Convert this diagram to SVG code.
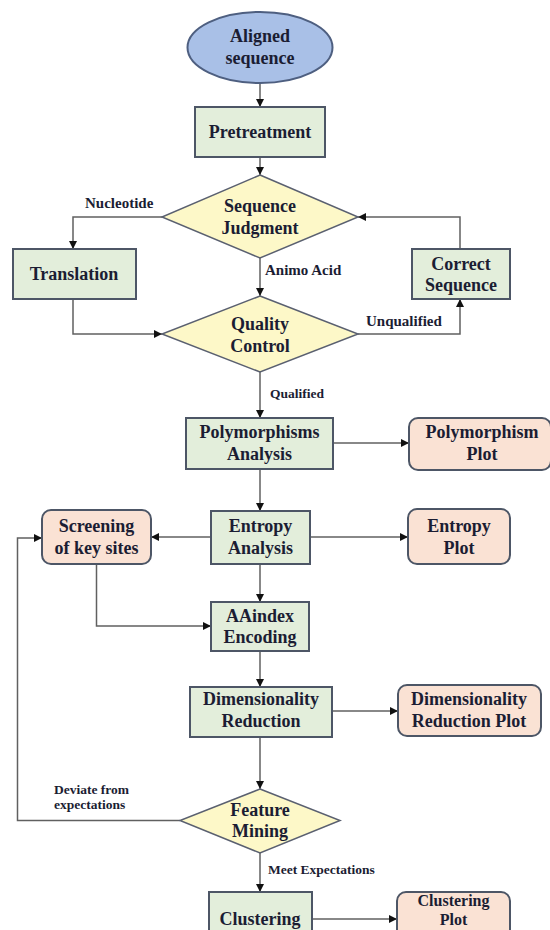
<svg xmlns="http://www.w3.org/2000/svg" width="550" height="930" viewBox="0 0 550 930">
<style>
.t{font-family:"Liberation Serif","Times New Roman",serif;font-weight:bold;font-size:18px;fill:#1b1d33;text-anchor:middle}
.l{font-family:"Liberation Serif","Times New Roman",serif;font-weight:bold;font-size:15px;fill:#1b1d33}
.s{font-size:13.5px}
.g{fill:#e3eedb;stroke:#4d5666;stroke-width:2}
.p{fill:#fae2d4;stroke:#4d5666;stroke-width:2}
.d{fill:#fdf8c8;stroke:#5a6070;stroke-width:1.5}
.c{fill:none;stroke:#606060;stroke-width:1.5}
</style>
<defs>
<marker id="a" viewBox="0 0 10 10" refX="10" refY="5" markerWidth="8" markerHeight="8" markerUnits="userSpaceOnUse" orient="auto">
<path d="M0,0 L10,5 L0,10 z" fill="#111"/>
</marker>
</defs>
<rect width="550" height="930" fill="#fff"/>
<g id="connectors" class="c" marker-end="url(#a)">
<path d="M260,83 V107"/>
<path d="M260,157 V175"/>
<path d="M162,217 H73 V249"/>
<path d="M260,258 V296"/>
<path d="M73,299 V334 H162"/>
<path d="M358,334 H460 V299"/>
<path d="M460,249 V217 H358"/>
<path d="M260,372 V418"/>
<path d="M333,443 H409"/>
<path d="M260,469 V511"/>
<path d="M211,537 H151"/>
<path d="M310,537 H408"/>
<path d="M260,564 V602"/>
<path d="M96.5,564 V626 H211"/>
<path d="M260,651 V687"/>
<path d="M332,711 H398"/>
<path d="M260,737 V789"/>
<path d="M180,820.5 H17.5 V538 H42"/>
<path d="M260,853 V892"/>
<path d="M312,919 H397"/>
</g>
<g id="aligned"><ellipse cx="260" cy="47.5" rx="72.5" ry="35.5" fill="#a9c0e7" stroke="#4e5f80" stroke-width="2"/><text class="t" x="260" y="42">Aligned</text><text class="t" x="260" y="64">sequence</text></g>
<g id="pretreatment"><rect class="g" x="195" y="107" width="130" height="50"/><text class="t" x="260" y="138">Pretreatment</text></g>
<g id="seqjudg"><polygon class="d" points="260,175 358,217 260,258 162,217"/><text class="t" x="260" y="212">Sequence</text><text class="t" x="260" y="234">Judgment</text></g>
<g id="translation"><rect class="g" x="13" y="249" width="123" height="50"/><text class="t" x="74" y="280">Translation</text></g>
<g id="correct"><rect class="g" x="412" y="249" width="98" height="50"/><text class="t" x="461" y="270">Correct</text><text class="t" x="461" y="291">Sequence</text></g>
<g id="quality"><polygon class="d" points="260,296 358,334 260,372 162,334"/><text class="t" x="260" y="330">Quality</text><text class="t" x="260" y="352">Control</text></g>
<g id="poly"><rect class="g" x="186" y="418" width="147" height="51"/><text class="t" x="259.5" y="438">Polymorphisms</text><text class="t" x="259.5" y="460">Analysis</text></g>
<g id="polyplot"><rect class="p" x="409" y="418" width="142" height="52" rx="9"/><text class="t" x="482" y="438">Polymorphism</text><text class="t" x="482" y="460">Plot</text></g>
<g id="screening"><rect class="p" x="42" y="510" width="109" height="54" rx="9"/><text class="t" x="96.5" y="532">Screening</text><text class="t" x="96.5" y="554">of key sites</text></g>
<g id="entropy"><rect class="g" x="211" y="511" width="99" height="53"/><text class="t" x="260.5" y="532">Entropy</text><text class="t" x="260.5" y="554">Analysis</text></g>
<g id="entropyplot"><rect class="p" x="408" y="509" width="102" height="55" rx="9"/><text class="t" x="459" y="532">Entropy</text><text class="t" x="459" y="554">Plot</text></g>
<g id="aaindex"><rect class="g" x="211" y="602" width="98" height="49"/><text class="t" x="260" y="622">AAindex</text><text class="t" x="260" y="643">Encoding</text></g>
<g id="dimred"><rect class="g" x="190" y="687" width="142" height="50"/><text class="t" x="261" y="705">Dimensionality</text><text class="t" x="261" y="727">Reduction</text></g>
<g id="dimplot"><rect class="p" x="398" y="685" width="143" height="51" rx="9"/><text class="t" x="469" y="705">Dimensionality</text><text class="t" x="469" y="727">Reduction Plot</text></g>
<g id="feature"><polygon class="d" points="260,789 340,820.5 260,853 180,820.5"/><text class="t" x="260" y="816">Feature</text><text class="t" x="260" y="837">Mining</text></g>
<g id="clustering"><rect class="g" x="209" y="892" width="103" height="55"/><text class="t" x="260" y="925">Clustering</text></g>
<g id="clusterplot"><rect class="p" x="397" y="892" width="113" height="55" rx="9"/><text class="t" x="453.5" y="906" style="font-size:16px">Clustering</text><text class="t" x="453.5" y="925" style="font-size:16px">Plot</text></g>
<g id="labels">
<text class="l" x="85" y="208">Nucleotide</text>
<text class="l" x="265" y="275">Animo Acid</text>
<text class="l" x="366" y="326">Unqualified</text>
<text class="l s" x="270" y="398">Qualified</text>
<text class="l s" x="54" y="794">Deviate from</text>
<text class="l s" x="54" y="809">expectations</text>
<text class="l s" x="268" y="874">Meet Expectations</text>
</g>
</svg>
